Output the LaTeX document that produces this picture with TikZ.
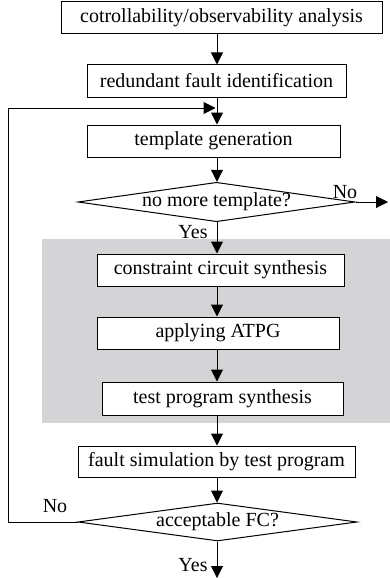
\documentclass[tikz,border=0pt]{standalone}
\usepackage{fontspec}
\setmainfont{Liberation Serif}
\usetikzlibrary{shapes.geometric,arrows.meta}
\definecolor{panelgray}{RGB}{212,212,214}
\begin{document}
\begin{tikzpicture}[x=1pt,y=-1pt,font=\fontsize{20}{23}\selectfont,
  line width=1pt,
  >={Triangle[length=12pt,width=12pt]},
  blk/.style={draw,fill=white,minimum height=32pt,inner sep=0pt},
  dec/.style={draw,fill=white,diamond,aspect=7,inner sep=0pt}]
\useasboundingbox (0,0) rectangle (390,578);
\fill[panelgray] (42,239) rectangle (390,423);
\coordinate (col) at (217,0);
\node[blk,minimum width=321pt] (ana) at (221.5,18) {cotrollability/observability analysis};
\node[blk,minimum width=259pt] (red) at (216.5,81) {redundant fault identification};
\node[blk,minimum width=253pt] (tmp) at (213.5,141) {template generation};
\node[dec,minimum width=277pt,minimum height=39pt] (more) at (216.5,202) {no more template?};
\node[blk,minimum width=247pt] (con) at (220.5,270) {constraint circuit synthesis};
\node[blk,minimum width=242pt] (atpg) at (218,333) {applying ATPG};
\node[blk,minimum width=241pt,minimum height=33pt] (tps) at (222.5,398.5) {test program synthesis};
\node[blk,minimum width=277pt,minimum height=31pt] (fsim) at (216.5,461.5) {fault simulation by test program};
\node[dec,minimum width=279pt,minimum height=38pt] (fc) at (217.5,522) {acceptable FC?};
\coordinate (exit1) at (388,202);
\coordinate (exit2) at (217,578);
\coordinate (back) at (8,108);
\draw[->] (ana.south -| col) -- (red.north -| col);
\draw[->] (red.south -| col) -- (tmp.north -| col);
\draw[->] (tmp.south -| col) -- (more.north -| col);
\draw[->] (more.east) -- (exit1);
\draw[->] (more.south -| col) -- (con.north -| col);
\draw[->] (con.south -| col) -- (atpg.north -| col);
\draw[->] (atpg.south -| col) -- (tps.north -| col);
\draw[->] (tps.south -| col) -- (fsim.north -| col);
\draw[->] (fsim.south -| col) -- (fc.north -| col);
\draw[->] (fc.south -| col) -- (exit2);
\draw[->] (fc.west) -| (back) -- ([xshift=-1.5pt]back -| col);
\node (no1) at (345,192) {No};
\node (yes1) at (193,232) {Yes};
\node (no2) at (55,506) {No};
\node (yes2) at (193,565) {Yes};
\end{tikzpicture}
\end{document}
